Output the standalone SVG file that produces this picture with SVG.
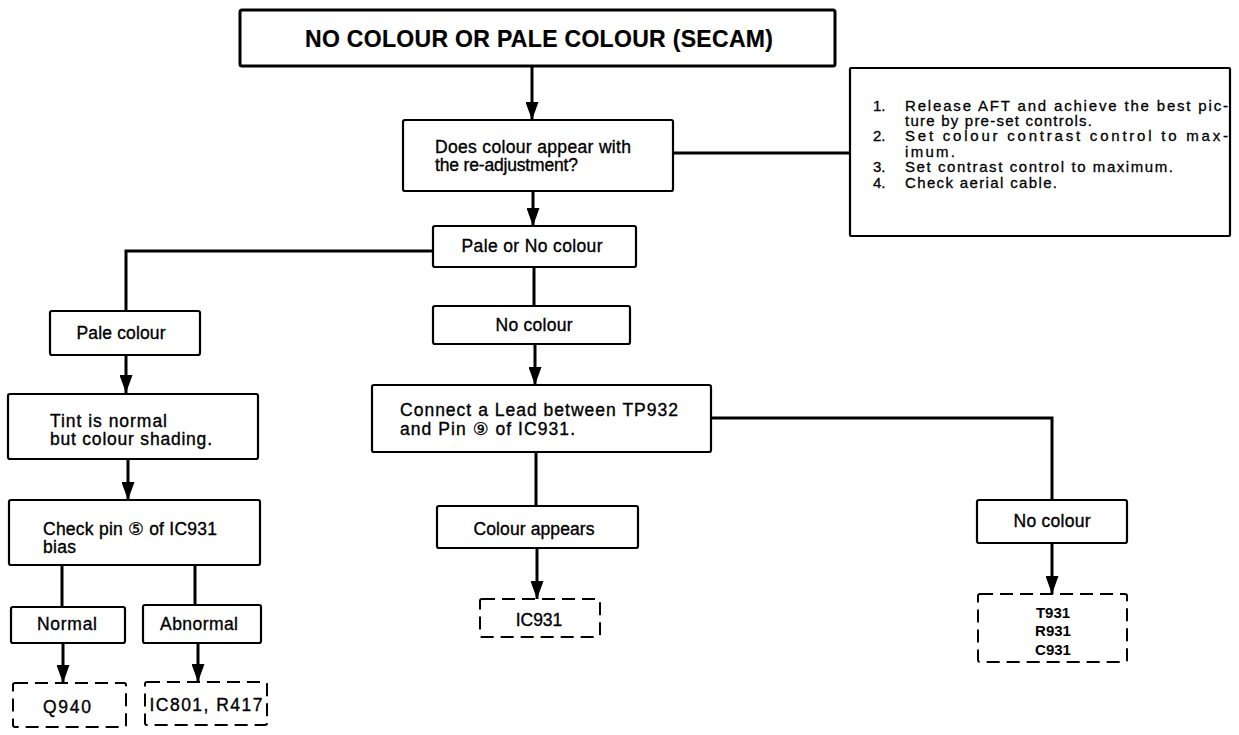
<svg xmlns="http://www.w3.org/2000/svg" width="1239" height="735" viewBox="0 0 1239 735">
<defs>
<style>
.box{fill:#fff;stroke:#000;stroke-width:2.2}
.title{fill:#fff;stroke:#000;stroke-width:3}
.dash{fill:#fff;stroke:#000;stroke-width:2;stroke-dasharray:13 7}
.ln{fill:none;stroke:#000;stroke-width:3}
text{font-family:"Liberation Sans","DejaVu Sans",Arial,sans-serif;font-size:17.5px;fill:#000;stroke:#000;stroke-width:0.35;letter-spacing:0}
.c{text-anchor:middle}
.t{font-size:23px;font-weight:bold;stroke-width:0.2}
.n{font-size:15px;stroke-width:0.3}
.b{font-weight:bold;font-size:15px;stroke-width:0}
.cd{font-family:"DejaVu Sans",sans-serif;font-size:17.5px;stroke-width:0.3}
</style>
<marker id="ah" markerUnits="userSpaceOnUse" markerWidth="18" markerHeight="13" viewBox="0 0 18 13" refX="18" refY="6.5" orient="auto">
<path d="M0,0 L18,6.5 L0,13 z" fill="#000"/>
</marker>
</defs>
<rect width="1239" height="735" fill="#fff"/>

<g id="connectors">
<path class="ln" d="M532,66 V120" marker-end="url(#ah)"/>
<path class="ln" d="M673,153 H850"/>
<path class="ln" d="M533,191 V226" marker-end="url(#ah)"/>
<path class="ln" d="M433,251 H126 V311"/>
<path class="ln" d="M534,267 V306"/>
<path class="ln" d="M126,355 V393" marker-end="url(#ah)"/>
<path class="ln" d="M128,458 V500" marker-end="url(#ah)"/>
<path class="ln" d="M62,565 V607"/>
<path class="ln" d="M195,565 V605"/>
<path class="ln" d="M63,643 V683" marker-end="url(#ah)"/>
<path class="ln" d="M198,643 V682" marker-end="url(#ah)"/>
<path class="ln" d="M535,344 V385" marker-end="url(#ah)"/>
<path class="ln" d="M711,418 H1052 V500"/>
<path class="ln" d="M536,452 V506"/>
<path class="ln" d="M537,548 V599" marker-end="url(#ah)"/>
<path class="ln" d="M1052,543 V594" marker-end="url(#ah)"/>
</g>

<g id="title">
<rect class="title" x="240" y="10" width="595" height="56" rx="2"/>
<text class="t c" x="539" y="47" textLength="468" lengthAdjust="spacing">NO COLOUR OR PALE COLOUR (SECAM)</text>
</g>

<g id="question">
<rect class="box" x="403" y="120" width="270" height="71" rx="2"/>
<text x="435" y="153" textLength="196" lengthAdjust="spacing">Does colour appear with</text>
<text x="435" y="171" textLength="143" lengthAdjust="spacing">the re-adjustment?</text>
</g>

<g id="notes">
<rect class="box" x="850" y="68" width="380" height="168" rx="1"/>
<text class="n" x="873" y="111">1.</text>
<text class="n" x="905" y="111" textLength="323" lengthAdjust="spacing">Release AFT and achieve the best pic-</text>
<text class="n" x="905" y="126" textLength="187" lengthAdjust="spacing">ture by pre-set controls.</text>
<text class="n" x="873" y="141">2.</text>
<text class="n" x="905" y="141" textLength="323" lengthAdjust="spacing">Set colour contrast control to max-</text>
<text class="n" x="905" y="157" textLength="50" lengthAdjust="spacing">imum.</text>
<text class="n" x="873" y="172">3.</text>
<text class="n" x="905" y="172" textLength="268" lengthAdjust="spacing">Set contrast control to maximum.</text>
<text class="n" x="873" y="188">4.</text>
<text class="n" x="905" y="188" textLength="152" lengthAdjust="spacing">Check aerial cable.</text>
</g>

<g id="pale-or-no">
<rect class="box" x="433" y="226" width="203" height="41" rx="2"/>
<text class="c" x="532" y="252" textLength="141" lengthAdjust="spacing">Pale or No colour</text>
</g>

<g id="pale-colour">
<rect class="box" x="50" y="311" width="150" height="44" rx="2"/>
<text class="c" x="121" y="339" textLength="89" lengthAdjust="spacing">Pale colour</text>
</g>

<g id="tint">
<rect class="box" x="8" y="394" width="250" height="65" rx="2"/>
<text x="50" y="427" textLength="117" lengthAdjust="spacing">Tint is normal</text>
<text x="50" y="445" textLength="162" lengthAdjust="spacing">but colour shading.</text>
</g>

<g id="check-pin">
<rect class="box" x="9" y="500" width="251" height="65" rx="2"/>
<text x="43" y="535" textLength="174" lengthAdjust="spacing">Check pin <tspan class="cd">⑤</tspan> of IC931</text>
<text x="43" y="553" textLength="33" lengthAdjust="spacing">bias</text>
</g>

<g id="normal">
<rect class="box" x="11" y="607" width="114" height="36" rx="2"/>
<text class="c" x="67" y="630" textLength="60" lengthAdjust="spacing">Normal</text>
</g>

<g id="abnormal">
<rect class="box" x="143" y="605" width="118" height="38" rx="2"/>
<text class="c" x="199" y="630" textLength="78" lengthAdjust="spacing">Abnormal</text>
</g>

<g id="q940">
<rect class="dash" x="13" y="683" width="113" height="44" rx="2"/>
<text class="c" x="67" y="713" textLength="48" lengthAdjust="spacing">Q940</text>
</g>

<g id="ic801">
<rect class="dash" x="145" y="682" width="122" height="43" rx="2"/>
<text class="c" x="206" y="711" textLength="113" lengthAdjust="spacing">IC801, R417</text>
</g>

<g id="no-colour-mid">
<rect class="box" x="433" y="306" width="197" height="38" rx="2"/>
<text class="c" x="534" y="331" textLength="77" lengthAdjust="spacing">No colour</text>
</g>

<g id="connect">
<rect class="box" x="372" y="385" width="339" height="67" rx="2"/>
<text x="400" y="416" textLength="278" lengthAdjust="spacing">Connect a Lead between TP932</text>
<text x="400" y="435" textLength="175" lengthAdjust="spacing">and Pin <tspan class="cd">⑨</tspan> of IC931.</text>
</g>

<g id="colour-appears">
<rect class="box" x="437" y="506" width="201" height="42" rx="2"/>
<text class="c" x="534" y="535" textLength="121" lengthAdjust="spacing">Colour appears</text>
</g>

<g id="ic931">
<rect class="dash" x="480" y="599" width="120" height="38" rx="2"/>
<text class="c" x="539" y="626">IC931</text>
</g>

<g id="no-colour-right">
<rect class="box" x="977" y="500" width="150" height="43" rx="2"/>
<text class="c" x="1052" y="527" textLength="77" lengthAdjust="spacing">No colour</text>
</g>

<g id="t931">
<rect class="dash" x="978" y="594" width="149" height="68" rx="2"/>
<text class="b c" x="1053" y="618">T931</text>
<text class="b c" x="1053" y="636">R931</text>
<text class="b c" x="1053" y="655">C931</text>
</g>
</svg>
